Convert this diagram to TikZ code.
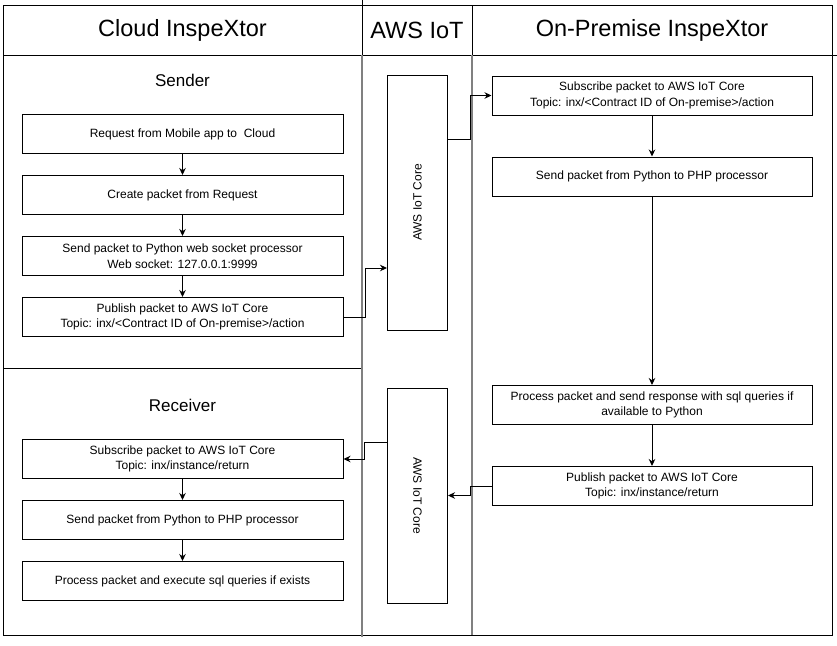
\documentclass[tikz,border=0pt]{standalone}
\usepackage{fontspec}
\setmainfont{Liberation Sans}
\usetikzlibrary{positioning,arrows.meta}

\begin{document}
\begin{tikzpicture}[x=1pt,y=-1pt,
  procbox/.style={draw, line width=1pt, inner sep=0pt, minimum width=321pt,
    minimum height=39pt, align=center, font=\fontsize{12}{15.5}\selectfont},
  iotbox/.style={draw, line width=1pt, minimum width=60pt, inner sep=0pt},
  iottext/.style={font=\fontsize{12}{14}\selectfont, inner sep=0pt},
  headtext/.style={font=\fontsize{23.5}{26}\selectfont},
  parttext/.style={font=\fontsize{17}{20}\selectfont},
  laneframe/.style={line width=1pt},
  lane/.style={draw=gray, line width=2pt},
  flow/.style={->, line width=1pt},
  >={Stealth[length=7pt,width=6.5pt]}]
  \useasboundingbox (0,0) rectangle (837,645);

  % swimlanes
  \draw[laneframe] (3,5) rectangle (832,55);
  \draw[laneframe] (362,0) -- (362,55) (472,5) -- (472,55) (832,55) -- (837,55);
  \draw[laneframe] (3,55) rectangle (362,368) (3,368) rectangle (362,635);
  \draw[laneframe] (472,55) rectangle (832,635) (362,635) -- (472,635);
  \draw[lane] (362,55) -- (362,637) (472,55) -- (472,635);

  % lane titles
  \node[headtext] (hcloud) at (182.5,30) {Cloud InspeXtor};
  \node[headtext] (haws) at (417,30) {AWS IoT};
  \node[headtext] (hprem) at (652,30) {On-Premise InspeXtor};
  \node[parttext] (lsend) at (182.5,80) {Sender};
  \node[parttext] (lrecv) at (182.5,405) {Receiver};

  % cloud: sender
  \node[procbox] (req) at (182.5,134) {Request from Mobile app to\ \ Cloud};
  \node[procbox, below=21pt of req] (pkt) {Create packet from Request};
  \node[procbox, below=21pt of pkt] (ws) {Send packet to Python web socket processor\\Web socket: 127.0.0.1:9999};
  \node[procbox, below=21pt of ws] (pub) {Publish packet to AWS IoT Core\\Topic: inx/<Contract ID of On-premise>/action};

  % cloud: receiver
  \node[procbox] (rsub) at (182.5,459) {Subscribe packet to AWS IoT Core\\Topic: inx/instance/return};
  \node[procbox, below=21pt of rsub] (rphp) {Send packet from Python to PHP processor};
  \node[procbox, below=21pt of rphp] (rsql) {Process packet and execute sql queries if exists};

  % aws iot
  \node[iotbox, minimum height=255pt,
    label={[iottext, rotate=90]center:AWS IoT Core}] (iot1) at (417.5,202.5) {};
  \node[iotbox, minimum height=215pt,
    label={[iottext, rotate=-90]center:AWS IoT Core}] (iot2) at (417.5,495.5) {};

  % on-premise
  \node[procbox, minimum width=320pt] (osub) at (652,95.5) {Subscribe packet to AWS IoT Core\\Topic: inx/<Contract ID of On-premise>/action};
  \node[procbox, minimum width=320pt, below=41pt of osub] (ophp) {Send packet from Python to PHP processor};
  \node[procbox, minimum width=320pt] (oproc) at (652,405) {Process packet and send response with sql queries if\\available to Python};
  \node[procbox, minimum width=320pt, below=41pt of oproc] (opub) {Publish packet to AWS IoT Core\\Topic: inx/instance/return};

  % flow inside the lanes
  \draw[flow] (req) -- (pkt);
  \draw[flow] (pkt) -- (ws);
  \draw[flow] (ws) -- (pub);
  \draw[flow] (rsub) -- (rphp);
  \draw[flow] (rphp) -- (rsql);
  \draw[flow] (osub) -- (ophp);
  \draw[flow] (ophp) -- (oproc);
  \draw[flow] (oproc) -- (opub);

  % flow across the aws lane
  \draw[flow] (pub.east) -- ++(22,0) |- ([yshift=-65.5pt]iot1.west);
  \draw[flow] ([yshift=63.5pt]iot1.east) -- ++(22.5,0) |- (osub.west);
  \draw[flow] (opub.west) -- ++(-21,0) |- (iot2.east);
  \draw[flow] ([yshift=53.5pt]iot2.west) -- ++(-22.5,0) |- (rsub.east);
\end{tikzpicture}
\end{document}
